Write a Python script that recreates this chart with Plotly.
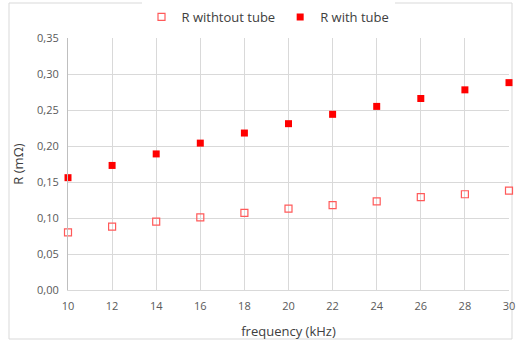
import plotly.graph_objects as go

frequency = [10, 12, 14, 16, 18, 20, 22, 24, 26, 28, 30]
r_without_tube = [0.080, 0.088, 0.095, 0.101, 0.107, 0.113, 0.118, 0.123, 0.129, 0.133, 0.138]
r_with_tube = [0.156, 0.173, 0.189, 0.204, 0.218, 0.231, 0.244, 0.255, 0.266, 0.278, 0.288]
y_ticks = [0.00, 0.05, 0.10, 0.15, 0.20, 0.25, 0.30, 0.35]
y_tick_labels = [f"{v:.2f}".replace(".", ",") for v in y_ticks]

font_family = "Open Sans, DejaVu Sans, sans-serif"

fig = go.Figure()
fig.add_trace(go.Scatter(
    x=frequency, y=r_without_tube, mode="markers", name="R withtout tube", cliponaxis=False,
    marker=dict(symbol="square-open", size=7, color="#ff5a5a", line=dict(width=1.2, color="#ff5a5a")),
))
fig.add_trace(go.Scatter(
    x=frequency, y=r_with_tube, mode="markers", name="R with tube", cliponaxis=False,
    marker=dict(symbol="square", size=7, color="#ff0000"),
))

L, R, T, B = 68, 8, 38, 52
W, H = 517, 342
pw, ph = W - L - R, H - T - B

def px_x(p):
    return (p - L) / pw

def px_y(p):
    return (H - B - p) / ph

fig.update_layout(
    width=W, height=H,
    margin=dict(l=L, r=R, t=T, b=B, autoexpand=False),
    paper_bgcolor="white", plot_bgcolor="white",
    font=dict(family=font_family, color="#595959", size=11),
    showlegend=True,
    legend=dict(orientation="h", x=px_x(268), xanchor="center", y=px_y(17), yanchor="middle",
                font=dict(size=13, color="#404040"), traceorder="normal", itemwidth=30),
    xaxis=dict(range=[10, 30], tickmode="array", tickvals=frequency, automargin=False,
               showgrid=True, gridcolor="#d9d9d9", gridwidth=1, zeroline=False,
               showline=True, linecolor="#d9d9d9",
               ticks="outside", ticklen=6, tickcolor="rgba(0,0,0,0)",
               title=dict(text="frequency (kHz)", font=dict(size=13, color="#404040"), standoff=14),
               tickfont=dict(size=11, color="#595959")),
    yaxis=dict(range=[0, 0.35], tickmode="array", tickvals=y_ticks, ticktext=y_tick_labels, automargin=False,
               showgrid=True, gridcolor="#d9d9d9", gridwidth=1, zeroline=False,
               showline=True, linecolor="#bfbfbf",
               ticks="outside", ticklen=6, tickcolor="rgba(0,0,0,0)",
               title=dict(text="R (mΩ)", font=dict(size=13, color="#404040"), standoff=10),
               tickfont=dict(size=11, color="#595959")),
    shapes=[dict(type="rect", xref="paper", yref="paper",
                 x0=px_x(9), x1=px_x(512), y0=px_y(339), y1=px_y(3),
                 line=dict(color="#d9d9d9", width=1), fillcolor="rgba(0,0,0,0)", layer="below")],
)

fig.write_html("out.html")
